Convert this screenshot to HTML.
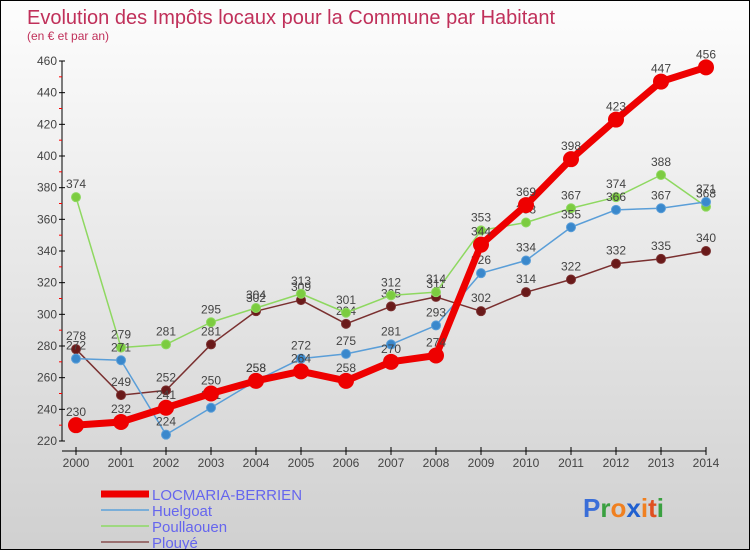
<!DOCTYPE html>
<html><head><meta charset="utf-8"><style>
body{margin:0}
#wrap{width:750px;height:550px;position:relative;box-sizing:border-box;border:1px solid #000;background:linear-gradient(#fdfdfd,#d0d0d0);font-family:"Liberation Sans",sans-serif;overflow:hidden}
svg text{font-family:"Liberation Sans",sans-serif}
</style></head><body>
<div id="wrap">
<svg id="c" width="750" height="550">
<text x="26" y="23" font-size="20" fill="#c0305a">Evolution des Impôts locaux pour la Commune par Habitant</text>
<text x="26" y="39" font-size="12" fill="#c0305a">(en € et par an)</text>
</svg>
</div>
<script>
const years=[2000,2001,2002,2003,2004,2005,2006,2007,2008,2009,2010,2011,2012,2013,2014];
const yTicks=[220,240,260,280,300,320,340,360,380,400,420,440,460];
const locmaria=[230,232,241,250,258,264,258,270,274,344,369,398,423,447,456];
const huelgoat=[272,271,224,241,258,272,275,281,293,326,334,355,366,367,371];
const poullaouen=[374,279,281,295,304,313,301,312,314,353,358,367,374,388,368];
const plouye=[278,249,252,281,302,309,294,305,311,302,314,322,332,335,340];
const svg=document.getElementById('c');const NS='http://www.w3.org/2000/svg';
function mk(t,a,p){const e=document.createElementNS(NS,t);for(const k in a)e.setAttribute(k,a[k]);(p||svg).appendChild(e);return e;}
const X=y=>75+(y-2000)*45;
const Y=v=>440-(v-220)*(380/240);
// axes
let ax=mk('line',{x1:61,y1:60,x2:61,y2:440,stroke:'#000'});


let bx=mk('line',{x1:61,y1:450,x2:705,y2:450,stroke:'#000'});


yTicks.forEach((v,i)=>{
 mk('line',{x1:58,y1:Y(v),x2:64,y2:Y(v),stroke:'#000'});
 if(i<yTicks.length-1)mk('line',{x1:58,y1:Y(v+10),x2:61,y2:Y(v+10),stroke:'#f00'});
 const t=mk('text',{x:56,y:Y(v)+4,'font-size':12,'text-anchor':'end',fill:'#444'});
 t.textContent=v;
 
 
});
years.forEach(y=>{
 mk('line',{x1:X(y),y1:446,x2:X(y),y2:454,stroke:'#000'});
 const t=mk('text',{x:X(y),y:466,'font-size':12,'text-anchor':'middle',fill:'#444'});
 t.textContent=y;
 
 
});
function series(data,color,w,r,name,dot){
 const g=mk('g',{});
 
 
 mk('polyline',{points:data.map((v,i)=>X(years[i])+','+Y(v)).join(' '),fill:'none',stroke:color,'stroke-width':w,'stroke-linejoin':'round'},g);
 data.forEach((v,i)=>{
  const c=mk('circle',{cx:X(years[i]),cy:Y(v),r:r,fill:dot,stroke:color,'stroke-width':1},g);
  
  
  const t=mk('text',{x:X(years[i]),y:Y(v)-9,'font-size':12,'text-anchor':'middle',fill:'#444'},g);
  t.textContent=v;
  
  
 });
}
series(plouye,'#7a3030',1.5,4.5,'plouye','#6a1a1a');
series(poullaouen,'#8ed860',1.5,4.5,'poullaouen','#7ccc40');
series(huelgoat,'#5a9ed8',1.5,4.5,'huelgoat','#3a88cc');
series(locmaria,'#ee0000',7,7.5,'locmaria-berrien','#ee0000');
// legend
const leg=[['LOCMARIA-BERRIEN','#ee0000',7],['Huelgoat','#7aaed8',2],['Poullaouen','#9ed880',2],['Plouyé','#9a7070',2]];
leg.forEach((l,i)=>{
 const y=493+i*16;
 const ln=mk('line',{x1:100,y1:y,x2:148,y2:y,stroke:l[1],'stroke-width':l[2]});
 
 
 const t=mk('text',{x:151,y:y+6,'font-size':15,fill:'#6666ee'});
 t.textContent=l[0];
 
 
});
const logo=mk('text',{x:582,y:516,'font-size':26,'font-weight':'bold'});


[['P','#3a6ed8'],['r','#3aa040'],['o','#f08020'],['x','#2060d0'],['i','#f08020'],['t','#e05020'],['i','#3aa040']].forEach(p=>{const s=mk('tspan',{fill:p[1]},logo);s.textContent=p[0];});
</script>
</body></html>
